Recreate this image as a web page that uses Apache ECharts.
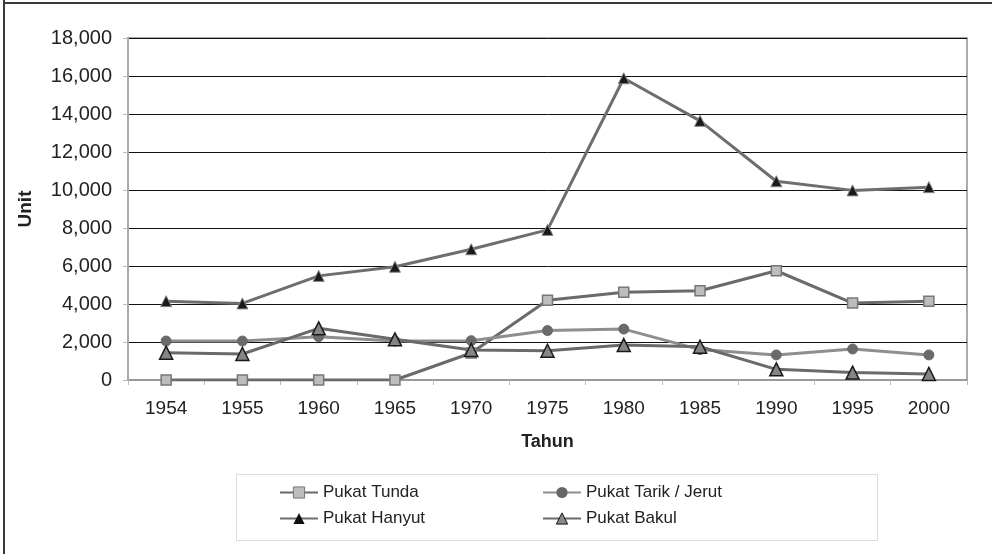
<!DOCTYPE html>
<html>
<head>
<meta charset="utf-8">
<script src="https://cdn.jsdelivr.net/npm/echarts@6/dist/echarts.min.js"></script>
<style>
  html, body { margin: 0; padding: 0; background: #fff; }
  #chart { width: 992px; height: 554px; }
</style>
</head>
<body>
<div id="chart"></div>
<script>
const years = ['1954', '1955', '1960', '1965', '1970', '1975', '1980', '1985', '1990', '1995', '2000'];
const pukatTunda = [0, 0, 0, 0, 1420, 4200, 4620, 4700, 5750, 4050, 4150];
const pukatTarik = [2050, 2050, 2280, 2050, 2070, 2600, 2680, 1600, 1320, 1630, 1320];
const pukatHanyut = [4150, 4030, 5480, 5960, 6880, 7900, 15880, 13640, 10460, 9980, 10150];
const pukatBakul = [1440, 1370, 2720, 2140, 1580, 1540, 1840, 1750, 560, 390, 320];

const chart = echarts.init(document.getElementById('chart'));
const font = 'Liberation Sans, Arial, sans-serif';

const option = {
  backgroundColor: '#fff',
  animation: false,
  textStyle: { fontFamily: font },
  graphic: [
    { type: 'line', shape: { x1: 4, y1: 0, x2: 4, y2: 554 }, style: { stroke: '#3a3a3a', lineWidth: 2 } },
    { type: 'line', shape: { x1: 3, y1: 3, x2: 992, y2: 3 }, style: { stroke: '#3a3a3a', lineWidth: 2 } },
    { type: 'rect', shape: { x: 236.5, y: 474.5, width: 641, height: 66 }, style: { fill: 'none', stroke: '#dcdcdc', lineWidth: 1 }, z: 0 }
  ],
  grid: {
    left: 128, right: 25, top: 38, bottom: 174,
    show: true, borderColor: '#aaa', borderWidth: 2
  },
  legend: [
    {
      data: [
        { name: 'Pukat Tunda', itemStyle: { color: '#bdbdbd', borderColor: '#777', borderWidth: 1 } },
        { name: 'Pukat Hanyut', itemStyle: { color: '#111', borderColor: '#111', borderWidth: 0 } }
      ],
      orient: 'vertical', left: 274, top: 479, itemGap: 9,
      itemWidth: 38, itemHeight: 14,
      textStyle: { fontSize: 17, color: '#222', fontFamily: font }
    },
    {
      data: [
        { name: 'Pukat Tarik / Jerut', itemStyle: { color: '#666', borderWidth: 0 } },
        { name: 'Pukat Bakul', itemStyle: { color: '#8a8a8a', borderColor: '#111', borderWidth: 1 } }
      ],
      orient: 'vertical', left: 537, top: 479, itemGap: 9,
      itemWidth: 38, itemHeight: 14,
      textStyle: { fontSize: 17, color: '#222', fontFamily: font }
    }
  ],
  xAxis: {
    type: 'category',
    data: years,
    name: 'Tahun',
    nameLocation: 'middle',
    nameGap: 53,
    nameTextStyle: { fontSize: 18, fontWeight: 'bold', color: '#222', fontFamily: font },
    axisLine: { lineStyle: { color: '#999', width: 2 } },
    axisTick: { show: true, length: 5, lineStyle: { color: '#bbb' } },
    axisLabel: { fontSize: 19, color: '#222', margin: 19, fontFamily: font }
  },
  yAxis: {
    type: 'value',
    min: 0, max: 18000, interval: 2000,
    name: 'Unit',
    nameLocation: 'middle',
    nameGap: 93,
    nameTextStyle: { fontSize: 19, fontWeight: 'bold', color: '#222', fontFamily: font },
    axisLine: { show: true, lineStyle: { color: '#aaa', width: 2 } },
    axisTick: { show: true, length: 5, lineStyle: { color: '#bbb' } },
    axisLabel: {
      fontSize: 20, color: '#222', margin: 16, fontFamily: font,
      formatter: v => v.toLocaleString('en-US')
    },
    splitLine: { lineStyle: { color: '#111', width: 1 } }
  },
  series: [
    {
      name: 'Pukat Tunda', type: 'line', data: pukatTunda,
      symbol: 'rect', symbolSize: 10,
      lineStyle: { color: '#6a6a6a', width: 3 },
      itemStyle: { color: '#bdbdbd', borderColor: '#777', borderWidth: 1.5 }
    },
    {
      name: 'Pukat Tarik / Jerut', type: 'line', data: pukatTarik,
      symbol: 'circle', symbolSize: 10,
      lineStyle: { color: '#8e8e8e', width: 3 },
      itemStyle: { color: '#6a6a6a', borderColor: '#6a6a6a', borderWidth: 1 }
    },
    {
      name: 'Pukat Hanyut', type: 'line', data: pukatHanyut,
      symbol: 'triangle', symbolSize: 11,
      lineStyle: { color: '#6e6e6e', width: 3 },
      itemStyle: { color: '#1a1a1a', borderColor: '#888', borderWidth: 1 }
    },
    {
      name: 'Pukat Bakul', type: 'line', data: pukatBakul,
      symbol: 'triangle', symbolSize: 13,
      lineStyle: { color: '#6a6a6a', width: 3 },
      itemStyle: { color: '#858585', borderColor: '#1a1a1a', borderWidth: 1.5 }
    }
  ]
};

chart.setOption(option);
</script>
</body>
</html>
